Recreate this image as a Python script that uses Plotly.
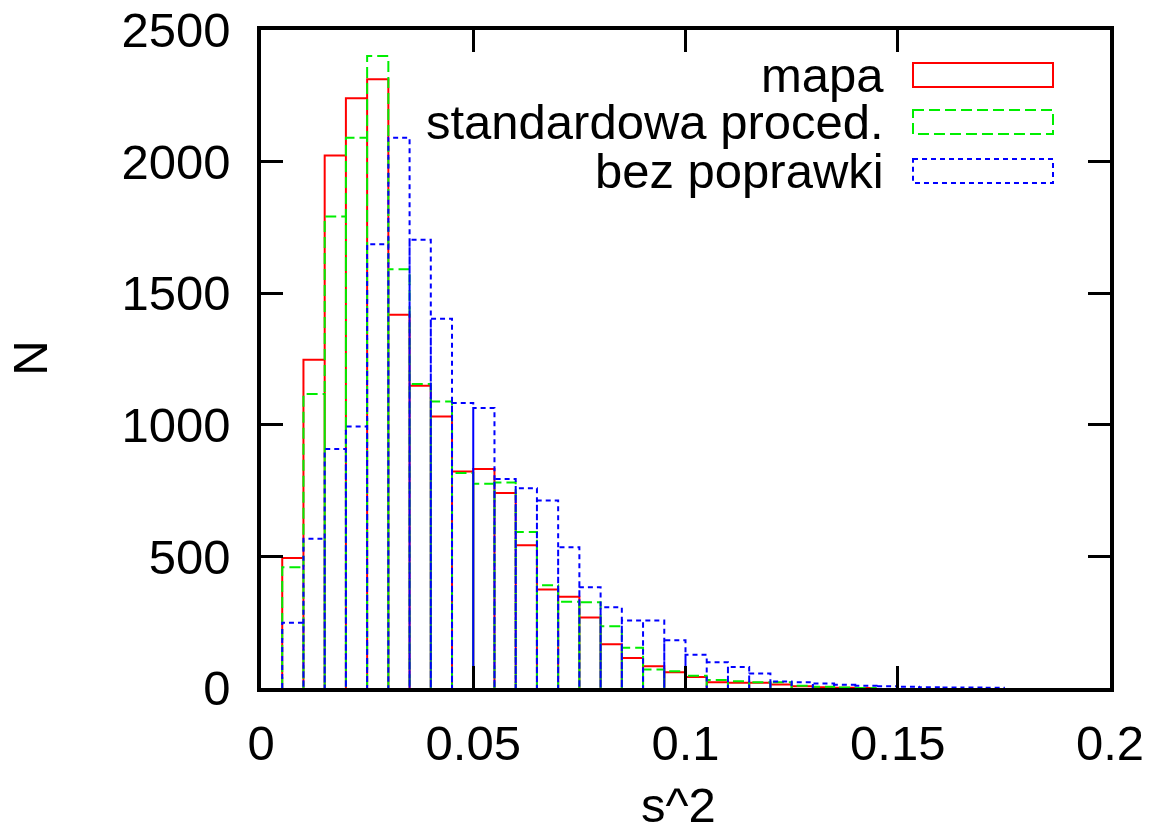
import plotly.graph_objects as go

# Histogram of s^2: bins of width 0.005 starting at 0.005
bin_start = 0.005
bin_width = 0.005

mapa = [494, 1247, 2023, 2241, 2313, 1418, 1148, 1032, 823, 832,
        741, 542, 374, 347, 268, 166, 114, 83, 60, 42,
        22, 20, 20, 13, 7, 3, 1, 0]
standard = [459, 1117, 1791, 2091, 2401, 1591, 1155, 1089, 817, 776,
            781, 593, 390, 328, 326, 235, 153, 70, 64, 47,
            30, 26, 22, 22, 9, 5, 2, 0]
bez = [248, 567, 908, 994, 1686, 2091, 1703, 1403, 1083, 1064,
       794, 759, 712, 535, 383, 307, 256, 256, 181, 126,
       98, 80, 55, 25, 22, 17, 12, 9, 7, 5,
       3, 2, 2, 1]

labels = ["mapa", "standardowa proced.", "bez poprawki"]
colors = ["#ff0000", "#00ee00", "#0000ff"]
dashes = ["solid", "11px,5px", "5px,4px"]
series = [mapa, standard, bez]

x_ticks = [0, 0.05, 0.1, 0.15, 0.2]
y_ticks = [0, 500, 1000, 1500, 2000, 2500]

FONT = "Liberation Sans, Arial, sans-serif"
FS = 49
W, H = 1159, 832
L, R, T, B = 261, 49, 30, 143.5


def box_outline(counts):
    """Outline of consecutive boxes: up the left edge, across, down the right."""
    xs, ys = [], []
    for i, c in enumerate(counts):
        left = bin_start + i * bin_width
        right = left + bin_width
        xs += [left, left, right, right]
        ys += [0, c, c, 0]
    return xs, ys


fig = go.Figure()
for name, vals, col, dash in zip(labels, series, colors, dashes):
    xs, ys = box_outline(vals)
    fig.add_trace(go.Scatter(
        x=xs, y=ys, mode="lines", name=name,
        line=dict(color=col, width=2, dash=dash),
        showlegend=False, hoverinfo="skip",
    ))

# helpers converting page pixels to paper fractions of the plot area
pw, ph = W - L - R, H - T - B


def px_x(p):
    return (p - L) / pw


def px_y(p):
    return (H - B - p) / ph


# key in the upper right: right-aligned text with an outlined sample box
key_rows = [75, 122, 171]
for name, col, dash, yc in zip(labels, colors, dashes, key_rows):
    fig.add_annotation(
        x=px_x(886), y=px_y(yc), xref="paper", yref="paper",
        text=name, showarrow=False, xanchor="right", yanchor="middle",
        font=dict(family=FONT, size=FS, color="black"),
    )
    fig.add_shape(
        type="rect", xref="paper", yref="paper",
        x0=px_x(913), x1=px_x(1053), y0=px_y(yc - 12), y1=px_y(yc + 12),
        line=dict(color=col, width=2, dash=dash), fillcolor="rgba(0,0,0,0)",
    )

# axis titles
fig.add_annotation(
    x=px_x(30), y=px_y(359), xref="paper", yref="paper", text="N",
    showarrow=False, textangle=-90, xanchor="center", yanchor="middle",
    font=dict(family=FONT, size=FS, color="black"),
)
fig.add_annotation(
    x=px_x(678), y=px_y(806), xref="paper", yref="paper", text="s^2",
    showarrow=False, xanchor="center", yanchor="middle",
    font=dict(family=FONT, size=FS, color="black"),
)

axis_common = dict(
    showline=True, linecolor="black", linewidth=3.5, mirror="allticks",
    ticks="inside", ticklen=22, tickwidth=2.5, tickcolor="black",
    showgrid=False, zeroline=False, automargin=False,
    tickfont=dict(family=FONT, size=FS, color="black"),
)

fig.update_layout(
    width=W, height=H,
    margin=dict(l=L, r=R, t=T, b=B, pad=0, autoexpand=False),
    paper_bgcolor="white", plot_bgcolor="white",
    xaxis=dict(range=[0, 0.2], tickvals=x_ticks,
               ticktext=[f"{v:g}" for v in x_ticks],
               ticklabelstandoff=9, **axis_common),
    yaxis=dict(range=[0, 2500], tickvals=y_ticks,
               ticktext=[str(v) for v in y_ticks],
               ticklabelstandoff=17, **axis_common),
)

fig.write_html("out.html")
